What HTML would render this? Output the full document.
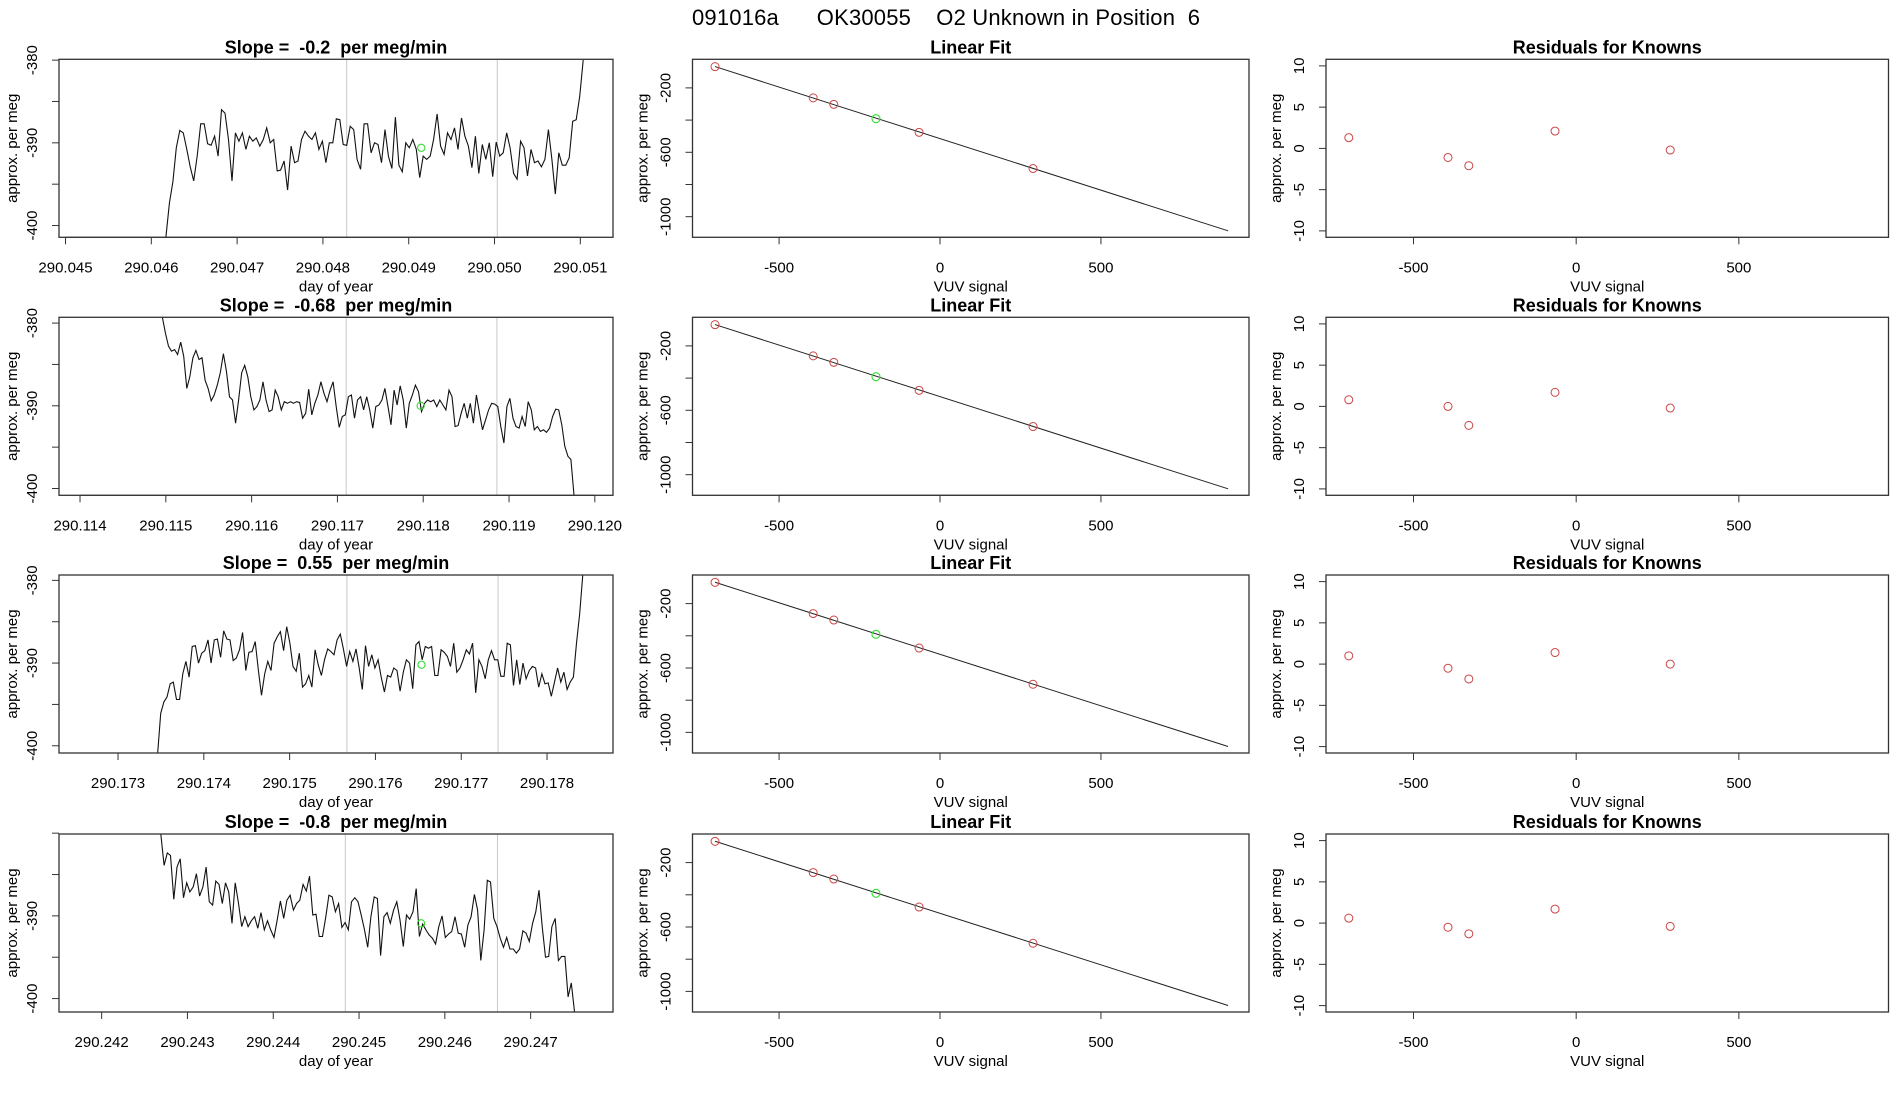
<!DOCTYPE html>
<html><head><meta charset="utf-8"><style>
html,body{margin:0;padding:0;background:#fff}
svg{display:block;font-family:"Liberation Sans",Arial,sans-serif}
</style></head><body>
<svg id="chart" width="1900" height="1100" viewBox="0 0 1900 1100" xmlns="http://www.w3.org/2000/svg">
<text x="946" y="25" font-size="22" text-anchor="middle" textLength="508" style="white-space:pre" xml:space="preserve">091016a      OK30055    O2 Unknown in Position  6</text>
</svg>
<script>
// ---- data ----
const slopeLabels = ["-0.2", "-0.68", "0.55", "-0.8"];
const tsStart = [290.04617, 290.11496, 290.173461, 290.24269];
const tsEnd = [290.051033, 290.119757, 290.178417, 290.247512];
const tsAxisMin = [290.044924, 290.113755, 290.172312, 290.241503];
const tsYTop = [-379.9, -379.3, -379.35, -380.1];
const tsLabelTop = [true, true, true, false];
const tsTickFirst = [290.045, 290.114, 290.173, 290.242];
const tsTickCount = [7, 7, 6, 6];
const grayA = [290.048277, 290.117102, 290.175668, 290.24484];
const grayB = [290.050032, 290.118859, 290.177429, 290.246613];
const greenT = [290.049146, 290.11797, 290.176537, 290.245723];
const greenV = [-390.6, -390.0, -390.2, -390.9];
const ts1 = [-401.4,-397.3,-394.7,-390.6,-388.5,-388.8,-390.8,-392.9,-394.6,-391.6,-387.7,-387.7,-390.1,-390.3,-389.2,-391.6,-386.0,-386.4,-389.6,-394.6,-388.8,-389.8,-388.8,-390.8,-389.2,-389.8,-389.4,-390.4,-389.6,-388.2,-390.0,-389.6,-393.4,-393.3,-392.2,-395.7,-390.4,-392.4,-392.2,-389.6,-388.6,-389.2,-389.6,-388.8,-390.8,-389.8,-392.4,-390.0,-390.0,-387.1,-387.2,-390.2,-390.3,-388.0,-388.4,-392.0,-393.2,-387.7,-387.7,-391.2,-390.0,-390.2,-392.4,-388.4,-391.6,-393.1,-386.9,-392.7,-393.5,-390.0,-390.6,-389.6,-390.8,-394.2,-391.6,-392.0,-391.6,-389.6,-386.5,-390.4,-391.4,-388.8,-389.6,-388.2,-390.8,-387.0,-389.2,-390.4,-393.0,-389.2,-393.7,-390.2,-392.0,-390.0,-394.1,-389.9,-391.6,-391.2,-388.8,-390.6,-393.7,-394.4,-389.8,-390.6,-394.0,-390.8,-392.4,-392.2,-392.9,-392.0,-388.4,-392.0,-396.2,-391.2,-392.7,-392.7,-391.8,-387.4,-387.2,-384.4,-380.0];
const ts2 = [-379.3,-381.2,-382.8,-383.4,-383.2,-383.8,-382.3,-384.0,-387.9,-386.5,-384.2,-383.3,-384.4,-384.2,-386.9,-387.9,-389.4,-388.7,-387.5,-386.0,-383.7,-385.8,-388.9,-389.3,-392.1,-389.3,-386.0,-385.1,-386.5,-388.9,-390.5,-390.1,-389.3,-387.1,-389.3,-390.7,-390.5,-388.1,-388.9,-390.5,-389.5,-389.7,-389.5,-389.7,-389.5,-389.6,-391.5,-390.9,-388.0,-391.1,-389.7,-388.7,-387.1,-388.5,-389.5,-388.1,-387.1,-390.1,-392.6,-391.3,-391.1,-388.9,-388.7,-391.5,-389.3,-388.9,-390.5,-388.9,-390.5,-392.7,-390.1,-389.9,-389.3,-387.9,-390.1,-392.3,-388.1,-389.9,-387.6,-389.3,-392.7,-389.7,-388.7,-387.5,-388.3,-390.7,-389.7,-389.3,-389.5,-389.3,-390.1,-389.3,-389.9,-390.5,-388.1,-388.9,-392.5,-392.4,-390.9,-389.7,-391.5,-389.7,-392.1,-388.7,-390.9,-392.9,-391.7,-390.5,-389.7,-389.8,-390.1,-392.5,-394.5,-390.1,-389.1,-391.5,-392.5,-392.7,-391.3,-392.5,-389.5,-390.5,-392.9,-392.5,-393.1,-392.9,-393.2,-392.7,-391.3,-390.4,-390.5,-392.3,-394.9,-396.1,-396.5,-400.8];
const ts3 = [-401.0,-396.1,-394.7,-394.1,-392.5,-392.3,-394.4,-394.4,-391.3,-389.8,-391.7,-388.0,-387.9,-390.0,-388.8,-388.5,-387.2,-390.0,-387.2,-387.1,-389.3,-386.1,-387.1,-387.2,-389.7,-389.4,-388.4,-386.3,-390.9,-388.7,-388.6,-387.4,-390.9,-393.9,-391.3,-389.8,-390.9,-387.6,-386.8,-386.2,-388.5,-385.6,-387.6,-390.4,-391.0,-388.8,-392.9,-392.5,-391.5,-392.9,-388.4,-390.2,-391.5,-389.6,-388.3,-388.6,-389.0,-387.2,-386.5,-388.3,-390.4,-388.6,-389.8,-388.3,-390.6,-393.2,-387.9,-390.4,-389.0,-390.6,-389.6,-391.7,-393.5,-391.5,-391.7,-390.6,-390.9,-393.4,-391.1,-389.6,-390.0,-393.1,-387.8,-387.4,-389.6,-388.0,-388.2,-388.0,-391.5,-391.5,-388.4,-388.7,-389.2,-390.4,-387.6,-391.1,-390.6,-389.6,-388.4,-388.9,-387.6,-393.6,-389.6,-390.4,-391.9,-389.6,-388.5,-389.6,-389.6,-391.6,-391.6,-387.6,-387.8,-392.7,-389.6,-392.6,-390.0,-391.9,-390.9,-390.4,-390.6,-392.9,-391.3,-392.5,-392.4,-394.0,-392.3,-390.6,-392.3,-391.1,-393.2,-392.3,-391.7,-387.6,-384.0,-379.3];
const ts4 = [-380.1,-383.9,-382.4,-382.7,-388.0,-384.1,-383.1,-387.8,-386.0,-387.1,-386.5,-384.9,-387.6,-386.5,-384.1,-388.3,-388.7,-385.8,-386.2,-388.5,-386.0,-387.1,-390.9,-386.0,-388.4,-391.3,-390.1,-391.3,-390.6,-390.1,-391.5,-389.6,-391.7,-390.6,-391.7,-392.6,-390.5,-388.2,-390.3,-388.1,-387.5,-389.3,-388.5,-388.1,-386.2,-387.0,-385.2,-389.9,-389.8,-392.5,-392.5,-390.2,-387.5,-387.7,-389.5,-388.5,-391.4,-390.8,-391.7,-388.3,-387.8,-388.3,-389.9,-391.7,-393.8,-390.1,-387.7,-387.9,-394.8,-390.1,-389.6,-390.9,-389.3,-388.3,-390.5,-393.7,-389.9,-390.4,-389.5,-386.7,-392.5,-391.0,-391.7,-392.3,-392.7,-393.4,-391.3,-390.0,-392.6,-392.2,-391.9,-390.1,-392.1,-392.2,-393.8,-391.1,-390.1,-387.4,-389.3,-395.4,-391.7,-385.7,-385.9,-390.3,-391.3,-392.7,-393.8,-392.6,-394.0,-394.0,-394.5,-394.0,-391.8,-392.1,-393.1,-390.9,-389.5,-386.9,-391.3,-395.0,-394.9,-391.3,-390.3,-395.4,-394.9,-394.9,-399.8,-398.1,-401.7];
const tsSeries = [ts1, ts2, ts3, ts4];
// linear fit
const knownX = [-699, -394, -330, -65, 289];
const knownY = [-68, -262, -302, -476, -701];
const unknownX = [-199];
const unknownY = [-391];
const fitSlope = -0.64;
const fitIntercept = -515;
const fitXEnd = 895;
const lfXTicks = [-500, 0, 500];
const lfYTicks = [-200, -400, -600, -800, -1000];
const lfYLabels = ["-200", "", "-600", "", "-1000"];
// residuals
const resid1 = [1.3, -1.1, -2.1, 2.1, -0.2];
const resid2 = [0.8, 0.0, -2.3, 1.7, -0.2];
const resid3 = [1.0, -0.5, -1.8, 1.4, 0.0];
const resid4 = [0.6, -0.5, -1.3, 1.7, -0.4];
const residSeries = [resid1, resid2, resid3, resid4];
const resYTicks = [-10, -5, 0, 5, 10];
const tsYTicks = [-380, -385, -390, -395, -400];

const NS = "http://www.w3.org/2000/svg";
const svg = document.getElementById("chart");
function mk(tag, attrs, parent, text) {
  const e = document.createElementNS(NS, tag);
  for (const k in attrs) e.setAttribute(k, attrs[k]);
  if (text !== undefined) e.textContent = text;
  (parent || svg).appendChild(e);
  return e;
}
const ROW_TOP = [59.3, 317.3, 575, 834];
const BOX_H = 178;
const TS_L = 59, TS_R = 613, PX_PER_DAY = 85800;
const LF_L = 692.5, LF_R = 1249, RS_L = 1326, RS_R = 1888.5;
const FX0 = -769, FX1 = 960;

function frame(g, l, t, r, b) {
  const rc = mk("rect", {x:l, y:t, width:r-l, height:b-t, fill:"none", stroke:"#333", "stroke-width":1.3}, g);
  
  
}
function titleText(g, x, y, s, name) {
  const t = mk("text", {x:x, y:y, "font-size":18, "font-weight":"bold", "text-anchor":"middle", "xml:space":"preserve", style:"white-space:pre"}, g, s);
  
  
}
function yLabel(g, x, y, s, name) {
  const t = mk("text", {x:x, y:y, "font-size":15, "text-anchor":"middle", transform:"rotate(-90 "+x+" "+y+")"}, g, s);
  
  
}
function xLabel(g, x, y, s, name) {
  const t = mk("text", {x:x, y:y, "font-size":15, "text-anchor":"middle"}, g, s);
  
  
}

for (let r = 0; r < 4; r++) {
  const top = ROW_TOP[r], bot = top + BOX_H;
  // ---------- time series ----------
  const g = mk("g", {});
  
  
  const xs = t => TS_L + (t - tsAxisMin[r]) * PX_PER_DAY;
  const ys = v => top + (tsYTop[r] - v) * 8.27;
  const cp = mk("clipPath", {id:"clipts"+r}, g);
  mk("rect", {x:TS_L, y:top, width:TS_R-TS_L, height:BOX_H}, cp);
  [grayA[r], grayB[r]].forEach((t, i) => {
    const l = mk("line", {x1:xs(t), x2:xs(t), y1:top, y2:bot, stroke:"#c8c8c8", "stroke-width":1}, g);
    
    
  });
  const data = tsSeries[r];
  const n = data.length;
  let d = "";
  data.forEach((v, i) => {
    const t = tsStart[r] + (tsEnd[r] - tsStart[r]) * i / (n - 1);
    d += (i ? "L" : "M") + xs(t).toFixed(1) + "," + ys(v).toFixed(1);
  });
  const p = mk("path", {d:d, fill:"none", stroke:"#111", "stroke-width":1.1, "clip-path":"url(#clipts"+r+")"}, g);
  
  
  const gc = mk("circle", {cx:xs(greenT[r]), cy:ys(greenV[r]), r:3.6, fill:"none", stroke:"#33dd33", "stroke-width":1.1}, g);
  
  
  frame(g, TS_L, top, TS_R, bot);
  titleText(g, 336, top - 6, "Slope =  " + slopeLabels[r] + "  per meg/min", 'slope-title');
  // x axis
  const x0 = xs(tsTickFirst[r]), x1 = xs(tsTickFirst[r] + (tsTickCount[r]-1)*0.001);
  mk("line", {x1:x0, x2:x1, y1:bot, y2:bot, stroke:"#333", "stroke-width":1}, g);
  for (let k = 0; k < tsTickCount[r]; k++) {
    const tv = tsTickFirst[r] + k * 0.001;
    const x = xs(tv);
    mk("line", {x1:x, x2:x, y1:bot, y2:bot+7, stroke:"#333"}, g);
    xLabel(g, x, bot + 35, tv.toFixed(3), 'x-tick-label');
  }
  xLabel(g, 336, bot + 54, "day of year", 'x-axis-title');
  // y axis
  tsYTicks.forEach(v => {
    const y = ys(v);
    if (y < top - 1 || y > bot + 1) return;
    mk("line", {x1:TS_L, x2:TS_L-7, y1:y, y2:y, stroke:"#333"}, g);
    if (v === -380 && !tsLabelTop[r]) return;
    if (v % 10 === 0) yLabel(g, TS_L - 22, y, String(v), 'y-tick-label');
  });
  yLabel(g, TS_L - 42, top + 89, "approx. per meg", 'y-axis-title');

  // ---------- linear fit ----------
  const g2 = mk("g", {});
  
  
  const lx = v => LF_L + (v - FX0) / (FX1 - FX0) * (LF_R - LF_L);
  const ly = v => top + (-22.4 - v) * 0.161;
  const fl = mk("line", {x1:lx(knownX[0]), y1:ly(fitIntercept + fitSlope*knownX[0]), x2:lx(fitXEnd), y2:ly(fitIntercept + fitSlope*fitXEnd), stroke:"#222", "stroke-width":1}, g2);
  
  
  knownX.forEach((v, i) => {
    const c = mk("circle", {cx:lx(v), cy:ly(knownY[i]), r:4, fill:"none", stroke:"#cc4444", "stroke-width":1}, g2);
    
    
  });
  unknownX.forEach((v, i) => {
    const c = mk("circle", {cx:lx(v), cy:ly(unknownY[i]), r:4, fill:"none", stroke:"#33dd33", "stroke-width":1.1}, g2);
    
    
  });
  frame(g2, LF_L, top, LF_R, bot);
  titleText(g2, (LF_L+LF_R)/2, top - 6, "Linear Fit", 'linear-fit-title');
  mk("line", {x1:lx(lfXTicks[0]), x2:lx(lfXTicks[lfXTicks.length-1]), y1:bot, y2:bot, stroke:"#333"}, g2);
  lfXTicks.forEach(v => {
    const x = lx(v);
    mk("line", {x1:x, x2:x, y1:bot, y2:bot+7, stroke:"#333"}, g2);
    xLabel(g2, x, bot + 35, String(v), 'x-tick-label');
  });
  xLabel(g2, (LF_L+LF_R)/2, bot + 54, "VUV signal", 'x-axis-title');
  lfYTicks.forEach((v, i) => {
    const y = ly(v);
    mk("line", {x1:LF_L, x2:LF_L-7, y1:y, y2:y, stroke:"#333"}, g2);
    if (lfYLabels[i]) yLabel(g2, LF_L - 22, y, lfYLabels[i], 'y-tick-label');
  });
  yLabel(g2, LF_L - 45, top + 89, "approx. per meg", 'y-axis-title');

  // ---------- residuals ----------
  const g3 = mk("g", {});
  
  
  const rx = v => RS_L + (v - FX0) / (FX1 - FX0) * (RS_R - RS_L);
  const ry = v => top + (10.8 - v) * 8.25;
  residSeries[r].forEach((v, i) => {
    const c = mk("circle", {cx:rx(knownX[i]), cy:ry(v), r:4, fill:"none", stroke:"#cc4444", "stroke-width":1}, g3);
    
    
  });
  frame(g3, RS_L, top, RS_R, bot);
  titleText(g3, (RS_L+RS_R)/2, top - 6, "Residuals for Knowns", 'residuals-title');
  mk("line", {x1:rx(lfXTicks[0]), x2:rx(lfXTicks[lfXTicks.length-1]), y1:bot, y2:bot, stroke:"#333"}, g3);
  lfXTicks.forEach(v => {
    const x = rx(v);
    mk("line", {x1:x, x2:x, y1:bot, y2:bot+7, stroke:"#333"}, g3);
    xLabel(g3, x, bot + 35, String(v), 'x-tick-label');
  });
  xLabel(g3, (RS_L+RS_R)/2, bot + 54, "VUV signal", 'x-axis-title');
  resYTicks.forEach(v => {
    const y = ry(v);
    mk("line", {x1:RS_L, x2:RS_L-7, y1:y, y2:y, stroke:"#333"}, g3);
    yLabel(g3, RS_L - 22, y, String(v), 'y-tick-label');
  });
  yLabel(g3, RS_L - 45, top + 89, "approx. per meg", 'y-axis-title');
}
</script>
</body></html>
